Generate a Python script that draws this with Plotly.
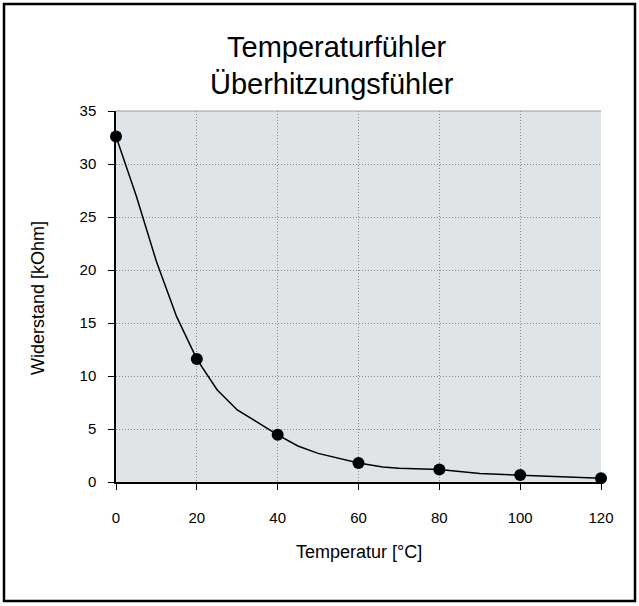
import plotly.graph_objects as go

# Curve (line) values
curve_temp = [0, 5, 10, 15, 20, 25, 30, 40, 45, 50, 60, 66, 70, 80, 90, 100, 110, 120]
curve_res = [32.6, 27.0, 20.8, 15.6, 11.6, 8.7, 6.8, 4.45, 3.4, 2.7, 1.8, 1.42, 1.3, 1.17, 0.8, 0.66, 0.5, 0.35]

# Marked measurement points
point_temp = [0, 20, 40, 60, 80, 100, 120]
point_res = [32.6, 11.6, 4.45, 1.8, 1.17, 0.66, 0.35]

x_ticks = [0, 20, 40, 60, 80, 100, 120]
y_ticks = [0, 5, 10, 15, 20, 25, 30, 35]

title_lines = ["Temperaturfühler", "Überhitzungsfühler"]
x_title = "Temperatur [°C]"
y_title = "Widerstand [kOhm]"

W, H = 639, 606
L, R, T, B = 116, 38, 111, 124
pw, ph = W - L - R, H - T - B

def px_x(px):
    return (px - L) / pw

def px_y(py):
    return (H - B - py) / ph

fig = go.Figure()
fig.add_trace(go.Scatter(
    x=curve_temp, y=curve_res, mode="lines",
    line=dict(color="black", width=1.5), cliponaxis=False, hoverinfo="skip",
    showlegend=False))
fig.add_trace(go.Scatter(
    x=point_temp, y=point_res, mode="markers",
    marker=dict(color="black", size=12), cliponaxis=False,
    showlegend=False))

font = "Liberation Sans, Arial, sans-serif"

fig.update_layout(
    width=W, height=H,
    margin=dict(l=L, r=R, t=T, b=B),
    paper_bgcolor="white",
    plot_bgcolor="#e1e4e7",
    font=dict(family=font, color="black", size=15),
    showlegend=False,
    xaxis=dict(
        range=[0, 120], tickvals=x_ticks, ticks="outside", ticklen=6,
        tickcolor="black", tickwidth=1,
        showline=True, linecolor="black", linewidth=1.5,
        showgrid=True, gridcolor="#8c8c8c", griddash="1px,2px", gridwidth=1,
        zeroline=False, ticklabelstandoff=15,
        tickfont=dict(size=15),
    ),
    yaxis=dict(
        range=[0, 35], tickvals=y_ticks, ticks="outside", ticklen=6,
        tickcolor="black", tickwidth=1,
        showline=True, linecolor="black", linewidth=1.5,
        showgrid=True, gridcolor="#8c8c8c", griddash="1px,2px", gridwidth=1,
        zeroline=False, ticklabelstandoff=9,
        tickfont=dict(size=15),
    ),
    annotations=[
        dict(text=title_lines[0], x=px_x(337), y=px_y(47), xref="paper", yref="paper",
             showarrow=False, font=dict(size=29, family=font), xanchor="center", yanchor="middle"),
        dict(text=title_lines[1], x=px_x(332), y=px_y(84), xref="paper", yref="paper",
             showarrow=False, font=dict(size=29, family=font), xanchor="center", yanchor="middle"),
        dict(text=x_title, x=px_x(359), y=px_y(552), xref="paper", yref="paper",
             showarrow=False, font=dict(size=18, family=font), xanchor="center", yanchor="middle"),
        dict(text=y_title, x=px_x(38), y=px_y(298), xref="paper", yref="paper",
             showarrow=False, font=dict(size=18, family=font), xanchor="center", yanchor="middle",
             textangle=-90),
    ],
    shapes=[
        dict(type="rect", xref="paper", yref="paper",
             x0=px_x(4), x1=px_x(635), y0=px_y(601), y1=px_y(4),
             line=dict(color="black", width=2.5), fillcolor="rgba(0,0,0,0)", layer="above"),
        dict(type="line", xref="paper", yref="paper",
             x0=0, x1=1, y0=1, y1=1, line=dict(color="#9a9a9a", width=1)),
    ],
)

fig.write_html("out.html", config={"displayModeBar": False},
               post_script="document.body.style.margin='0px';document.body.style.overflow='hidden';")
